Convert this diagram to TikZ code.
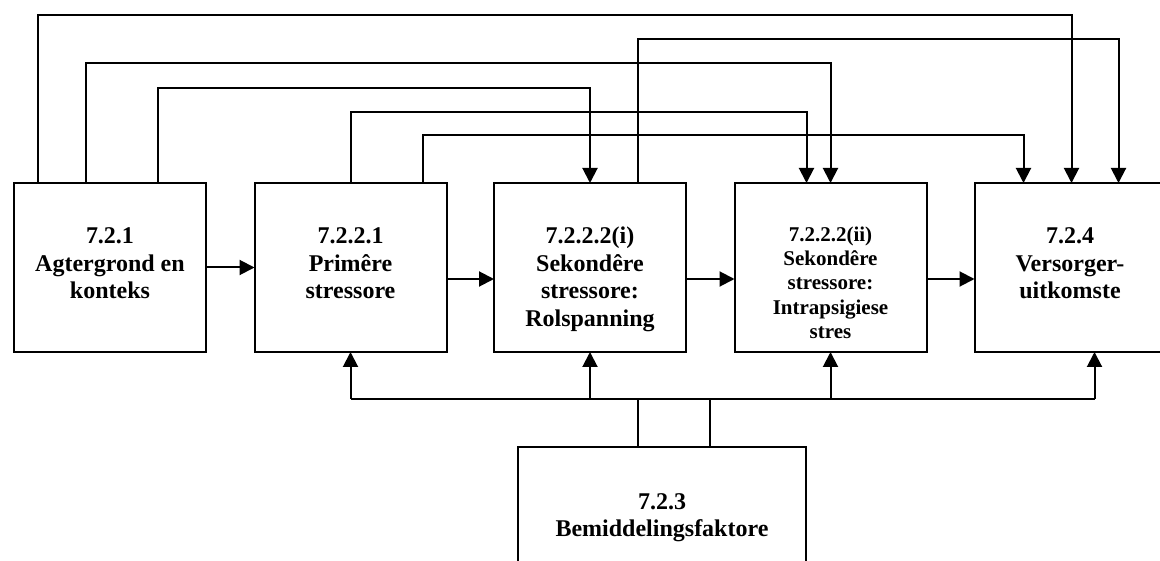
\documentclass[tikz,border=0pt]{standalone}
\usepackage{fontspec}
\setmainfont{Liberation Serif}
\usetikzlibrary{arrows.meta,calc}
\begin{document}
\begin{tikzpicture}[x=1pt,y=-1pt,
  box/.style={draw,line width=2pt,minimum width=192pt,minimum height=169pt,inner sep=0pt,outer sep=0pt},
  label/.style={font=\bfseries\fontsize{24}{27.5}\selectfont,align=center,inner sep=0pt,anchor=base},
  smalllabel/.style={font=\bfseries\fontsize{21}{24.3}\selectfont,align=center,inner sep=0pt,anchor=base},
  link/.style={line width=2pt},
  arr/.style={line width=2pt,-{Triangle[width=15pt,length=15pt]}}]
\useasboundingbox (0,0) rectangle (1160,561);
\clip (0,0) rectangle (1160,561);

% main row of boxes
\node[box] (b1) at (110,267.5) {};
\node[box] (b2) at (350.5,267.5) {};
\node[box] (b3) at (590,267.5) {};
\node[box] (b4) at (830.5,267.5) {};
\node[box] (b5) at (1070.5,267.5) {};
\node[box,minimum width=288pt,minimum height=160pt] (b6) at (662,527) {};

% box texts (anchored at the baseline of their last line)
\node[label] (t1) at (110,299) {7.2.1\\Agtergrond en\\konteks};
\node[label] (t2) at (350.5,299) {7.2.2.1\\Primêre\\stressore};
\node[label] (t3) at (590,326.5) {7.2.2.2(i)\\Sekondêre\\stressore:\\Rolspanning};
\node[smalllabel] (t4) at (830.5,338.5) {7.2.2.2(ii)\\Sekondêre\\stressore:\\Intrapsigiese\\stres};
\node[label] (t5) at (1070,299) {7.2.4\\Versorger-\\uitkomste};
\node[label] (t6) at (662,536.5) {7.2.3\\Bemiddelingsfaktore};

% levels of the overhead routes and the lower bus
\coordinate (yA) at (0,15);
\coordinate (yF) at (0,39);
\coordinate (yB) at (0,63);
\coordinate (yC) at (0,88);
\coordinate (yD) at (0,112);
\coordinate (yE) at (0,135);
\coordinate (bus) at (0,399);
\coordinate (mid) at (0,279);

% start and end points on the box tops
\coordinate (s1a) at ($(b1.north west)+(24,0)$);
\coordinate (s1b) at ($(b1.north west)+(72,0)$);
\coordinate (s1c) at ($(b1.north west)+(144,0)$);
\coordinate (s2d) at ($(b2.north west)+(96,0)$);
\coordinate (s2e) at ($(b2.north west)+(168,0)$);
\coordinate (s3f) at ($(b3.north west)+(144,0)$);
\coordinate (e3c) at ($(b3.north west)+(96,0)$);
\coordinate (e4d) at ($(b4.north west)+(72,0)$);
\coordinate (e4b) at ($(b4.north west)+(96,0)$);
\coordinate (e5e) at ($(b5.north west)+(49,0)$);
\coordinate (e5a) at ($(b5.north west)+(97,0)$);
\coordinate (e5f) at ($(b5.north west)+(144,0)$);

% overhead routes
\draw[arr] (s1a) -- (s1a |- yA) -| (e5a);
\draw[arr] (s1b) -- (s1b |- yB) -| (e4b);
\draw[arr] (s1c) -- (s1c |- yC) -| (e3c);
\draw[arr] (s2d) -- (s2d |- yD) -| (e4d);
\draw[arr] (s2e) -- (s2e |- yE) -| (e5e);
\draw[arr] (s3f) -- (s3f |- yF) -| (e5f);

% chain along the row
\draw[arr] (b1.east) -- (b2.west);
\draw[arr] (b2.east |- mid) -- (b3.west |- mid);
\draw[arr] (b3.east |- mid) -- (b4.west |- mid);
\draw[arr] (b4.east |- mid) -- (b5.west |- mid);

% mediating factors feeding the bus below the row
\coordinate (m1) at ($(b6.north west)+(120,0)$);
\coordinate (m2) at ($(b6.north west)+(192,0)$);
\coordinate (u5) at ($(b5.south west)+(120,0)$);
\draw[link] (m1) -- (m1 |- bus);
\draw[link] (m2) -- (m2 |- bus);
\draw[link] (b2.south |- bus) -- (u5 |- bus);
\draw[arr] (b2.south |- bus) -- (b2.south);
\draw[arr] (b3.south |- bus) -- (b3.south);
\draw[arr] (b4.south |- bus) -- (b4.south);
\draw[arr] (u5 |- bus) -- (u5);
\end{tikzpicture}
\end{document}
